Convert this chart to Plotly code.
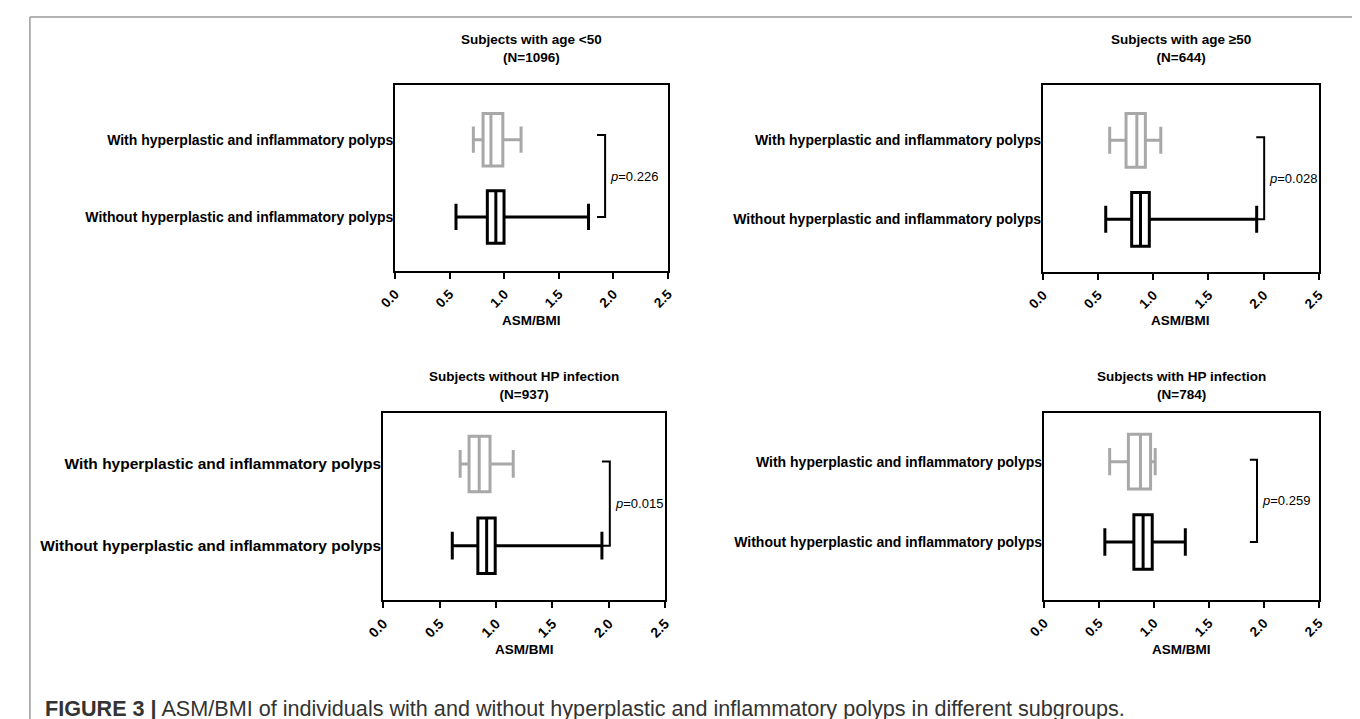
import plotly.graph_objects as go

W, H = 1360, 719

# ---------------- data ----------------
panel_titles = ["Subjects with age <50<br>(N=1096)",
                "Subjects with age ≥50<br>(N=644)",
                "Subjects without HP infection<br>(N=937)",
                "Subjects with HP infection<br>(N=784)"]
categories = ["Without hyperplastic and inflammatory polyps",
              "With hyperplastic and inflammatory polyps"]

with_low = [0.717, 0.605, 0.682, 0.598]
with_q1 = [0.806, 0.753, 0.761, 0.768]
with_med = [0.878, 0.851, 0.851, 0.878]
with_q3 = [0.987, 0.928, 0.947, 0.970]
with_high = [1.154, 1.068, 1.153, 1.012]

without_low = [0.558, 0.569, 0.612, 0.554]
without_q1 = [0.845, 0.804, 0.839, 0.818]
without_med = [0.923, 0.884, 0.917, 0.902]
without_q3 = [0.998, 0.964, 0.993, 0.985]
without_high = [1.772, 1.937, 1.940, 1.286]

p_values = ["0.226", "0.028", "0.015", "0.259"]
bracket_x = [1.924, 2.005, 2.010, 1.938]
bracket_left = [1.850, 1.933, 1.940, 1.873]
bracket_top = [1.06, 1.04, 1.03, 1.025]

x_ticks = [0.0, 0.5, 1.0, 1.5, 2.0, 2.5]
x_ticktext = ["0.0", "0.5", "1.0", "1.5", "2.0", "2.5"]
caption = "<b>FIGURE 3 |</b> ASM/BMI of individuals with and without hyperplastic and inflammatory polyps in different subgroups."

# ---------------- layout geometry (pixels) ----------------
panels_px = [  # x0, x1, ytop, ybottom
    (376, 654, 77, 263),
    (1036, 1317, 77, 264),
    (364, 651, 405, 592),
    (1037, 1317, 405, 592),
]
y_ranges = [(-0.699, 1.708), (-0.667, 1.700), (-0.665, 1.624), (-0.722, 1.606)]
label_sizes = [14, 14, 15.5, 14]
tick_sizes = [13.5, 13.5, 14, 13.5]
title_y_px = [40.5, 40.5, 378, 378]
xtitle_y_px = [312, 312, 641, 641]

FONT = "Liberation Sans, Arial, sans-serif"
GRAY = "#a8a8a8"


def px_x(p):
    return p / W


def px_y(p):
    return 1 - p / H


fig = go.Figure()
layout = dict(width=W, height=H, margin=dict(l=0, r=0, t=0, b=0),
              paper_bgcolor="white", plot_bgcolor="white", showlegend=False,
              font=dict(family=FONT, color="black"))
annotations = []
shapes = []

for i in range(4):
    n = "" if i == 0 else str(i + 1)
    xa, ya = "x" + n, "y" + n
    x0, x1, yt, yb = panels_px[i]

    fig.add_trace(go.Box(
        y=[1], q1=[with_q1[i]], median=[with_med[i]], q3=[with_q3[i]],
        lowerfence=[with_low[i]], upperfence=[with_high[i]],
        orientation="h", width=0.68, whiskerwidth=0.5, boxpoints=False,
        line=dict(color=GRAY, width=3), fillcolor="white",
        xaxis=xa, yaxis=ya, hoverinfo="skip"))
    fig.add_trace(go.Box(
        y=[0], q1=[without_q1[i]], median=[without_med[i]], q3=[without_q3[i]],
        lowerfence=[without_low[i]], upperfence=[without_high[i]],
        orientation="h", width=0.68, whiskerwidth=0.5, boxpoints=False,
        line=dict(color="black", width=3), fillcolor="white",
        xaxis=xa, yaxis=ya, hoverinfo="skip"))

    layout["xaxis" + n] = dict(
        domain=[px_x(x0), px_x(x1)], anchor=ya, range=[0, 2.5],
        tickvals=x_ticks, ticktext=x_ticktext, tickangle=-45,
        ticks="outside", ticklen=6, tickwidth=2, tickcolor="black",
        showline=True, linewidth=2, linecolor="black", mirror=True,
        showgrid=False, zeroline=False, ticklabelstandoff=2,
        tickfont=dict(family=FONT, size=tick_sizes[i], color="black", weight="bold"))
    layout["yaxis" + n] = dict(
        domain=[px_y(yb), px_y(yt)], anchor=xa, range=list(y_ranges[i]),
        tickvals=[0, 1], ticktext=categories, ticks="",
        showline=True, linewidth=2, linecolor="black", mirror=True,
        showgrid=False, zeroline=False, ticklabelstandoff=-3,
        tickfont=dict(family=FONT, size=label_sizes[i], color="black", weight="bold"))

    # significance bracket
    shapes.append(dict(
        type="path", xref=xa, yref=ya,
        path=f"M {bracket_left[i]},{bracket_top[i]} L {bracket_x[i]},{bracket_top[i]} "
             f"L {bracket_x[i]},0 L {bracket_left[i]},0",
        line=dict(color="black", width=2)))
    annotations.append(dict(
        x=bracket_x[i], y=(bracket_top[i]) / 2, xref=xa, yref=ya,
        xanchor="left", yanchor="middle", xshift=3, showarrow=False,
        text=f"<i>p</i>={p_values[i]}",
        font=dict(family=FONT, size=13, color="black")))

    # panel title
    annotations.append(dict(
        x=px_x((x0 + x1) / 2), y=px_y(title_y_px[i]), xref="paper", yref="paper",
        xanchor="center", yanchor="middle", showarrow=False, align="center",
        text=panel_titles[i],
        font=dict(family=FONT, size=13.5, color="black", weight="bold")))
    # x axis title
    annotations.append(dict(
        x=px_x((x0 + x1) / 2), y=px_y(xtitle_y_px[i]), xref="paper", yref="paper",
        xanchor="center", yanchor="middle", showarrow=False,
        text="ASM/BMI",
        font=dict(family=FONT, size=13.5, color="black", weight="bold")))

# caption
annotations.append(dict(
    x=px_x(17), y=px_y(700), xref="paper", yref="paper",
    xanchor="left", yanchor="middle", showarrow=False, text=caption,
    font=dict(family=FONT, size=21.6, color="#333333")))

# outer frame
for sx0, sy0, sx1, sy1 in [(4, 9, 1356, 9), (4, 9, 4, 725), (1356, 9, 1356, 725)]:
    shapes.append(dict(type="line", xref="paper", yref="paper",
                       x0=px_x(sx0), y0=px_y(sy0), x1=px_x(sx1), y1=px_y(sy1),
                       line=dict(color="#9a9a9a", width=1.5)))

layout["annotations"] = annotations
layout["shapes"] = shapes
fig.update_layout(**layout)
fig.write_html("out.html")
